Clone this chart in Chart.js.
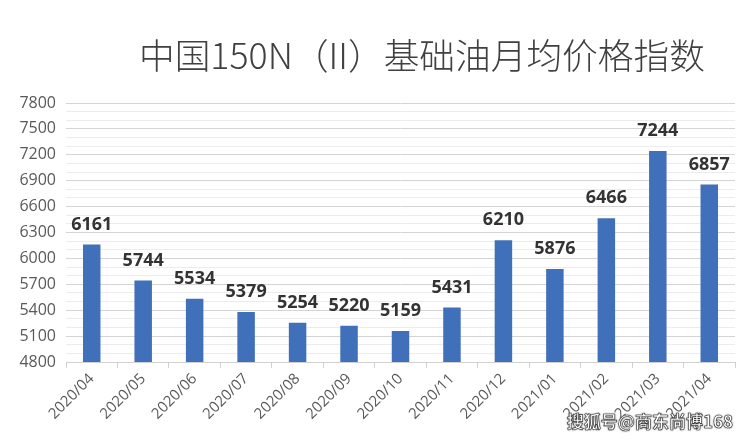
<!DOCTYPE html>
<html><head><meta charset="utf-8">
<script src="https://cdn.jsdelivr.net/npm/chart.js@4/dist/chart.umd.min.js"></script>
<style>
html,body{margin:0;padding:0;background:#fff;}
#wrap{position:relative;width:745px;height:440px;}
#title{position:absolute;left:139px;top:31px;font-family:"Noto Sans CJK SC","Noto Sans",sans-serif;font-size:35.7px;font-weight:300;color:#404040;white-space:nowrap;line-height:46px;}
#mark{position:absolute;right:12px;bottom:7px;font-family:"Noto Sans CJK SC",sans-serif;font-size:17px;font-weight:bold;color:#fff;-webkit-text-stroke:0.6px #333;text-shadow:0 0 2px #333;}
canvas{position:absolute;left:0;top:0;}
</style></head>
<body><div id="wrap"><canvas id="c" width="745" height="440"></canvas>
<div id="title">中国150N（II）基础油月均价格指数</div>
<div id="mark">搜狐号@商东尚博168</div></div>
<script>
const categories = ["2020/04","2020/05","2020/06","2020/07","2020/08","2020/09","2020/10","2020/11","2020/12","2021/01","2021/02","2021/03","2021/04"];
const values = [6161,5744,5534,5379,5254,5220,5159,5431,6210,5876,6466,7244,6857];
const yMin = 4800, yMax = 7800, yLabelStep = 300, yMinorStep = 100;

const labelPlugin = {
  id:'barLabels',
  afterDatasetsDraw(chart){
    const ctx = chart.ctx;
    const meta = chart.getDatasetMeta(0);
    ctx.save();
    ctx.font = 'bold 18px "Open Sans", "Noto Sans", sans-serif';
    ctx.fillStyle = '#333333';
    ctx.textAlign = 'center';
    ctx.textBaseline = 'bottom';
    meta.data.forEach((bar,i)=>{
      ctx.fillText(String(values[i]), bar.x, bar.y - 11);
    });
    ctx.restore();
  }
};

new Chart(document.getElementById('c'), {
  type:'bar',
  data:{labels:categories, datasets:[{data:values, backgroundColor:'#4170BA', barPercentage:0.34, categoryPercentage:1}]},
  options:{
    responsive:false, animation:false,
    layout:{padding:{top:103, right:10, left:0, bottom:0}},
    plugins:{legend:{display:false}, tooltip:{enabled:false}},
    scales:{
      x:{
        grid:{display:true, offset:true, drawOnChartArea:false, tickLength:6, color:'#d0d0d0'},
        border:{color:'#d0d0d0'},
        ticks:{maxRotation:45, minRotation:45, color:'#595959', padding:2, font:{family:'"Open Sans", "Noto Sans", sans-serif', size:15}},
        afterFit(s){ s.height = 78; }
      },
      y:{
        min:yMin, max:yMax,
        grid:{color:(c)=> ((c.tick.value - yMin) % yLabelStep === 0) ? '#d4d4d4' : '#ececec', drawTicks:false},
        border:{display:false},
        ticks:{stepSize:yMinorStep, autoSkip:false, color:'#595959', padding:10,
          font:{family:'"Open Sans", "Noto Sans", sans-serif', size:16},
          callback:(v)=> ((v - yMin) % yLabelStep === 0) ? String(v) : ''},
        afterFit(s){ s.width = 66; }
      }
    }
  },
  plugins:[labelPlugin]
});
</script></body></html>
